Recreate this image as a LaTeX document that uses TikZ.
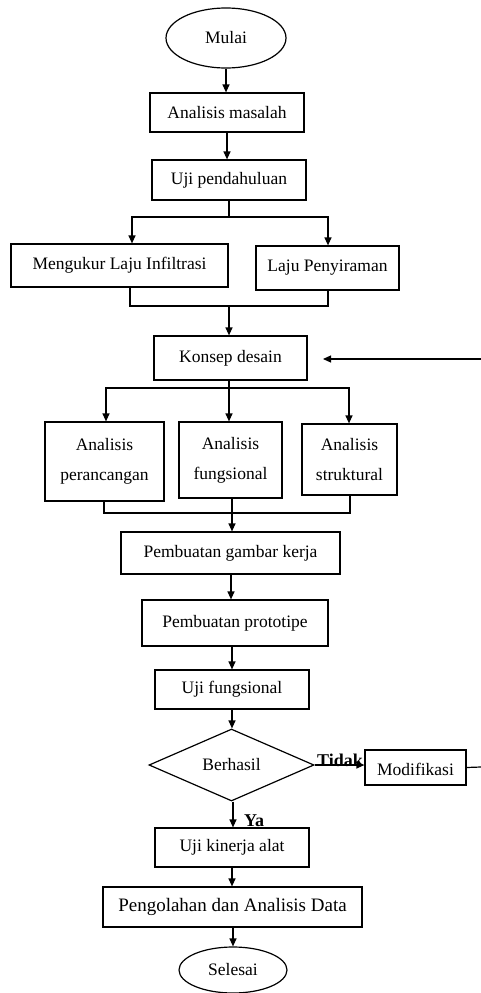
\documentclass[tikz,border=0pt]{standalone}
\usepackage{fontspec}
\setmainfont{Liberation Serif}
\usetikzlibrary{shapes.geometric,arrows.meta}
\begin{document}
\begin{tikzpicture}[x=1pt,y=-1pt,
  line width=1.2pt,
  txt/.style={font=\fontsize{17.5}{20}\selectfont},
  box/.style={draw,rectangle,inner sep=0pt,align=center,txt},
  twoline/.style={box,font=\fontsize{17.5}{30}\selectfont},
  oval/.style={draw,ellipse,inner sep=0pt,txt},
  decision/.style={draw,diamond,inner sep=0pt,txt},
  arr/.style={-{Triangle[length=8pt,width=7pt]}},
  lbl/.style={font=\fontsize{18}{20}\selectfont\bfseries,inner sep=0pt}]
\useasboundingbox (0,0) rectangle (481,993);

\node[oval,minimum width=120pt,minimum height=60pt] (mulai) at (226,38) {Mulai};
\node[box,minimum width=154pt,minimum height=39pt] (am) at (227,112.5) {Analisis masalah};
\node[box,minimum width=154pt,minimum height=40pt] (uji) at (229,180) {Uji pendahuluan};
\node[box,minimum width=217pt,minimum height=43pt] (meng) at (119.5,265.5) {Mengukur Laju Infiltrasi};
\node[box,minimum width=143pt,minimum height=44pt] (laju) at (327.5,268) {Laju Penyiraman};
\node[box,minimum width=153pt,minimum height=44pt] (konsep) at (230.5,358) {Konsep desain};
\node[twoline,minimum width=119pt,minimum height=79pt] (ap) at (104.5,461.5) {Analisis\\perancangan};
\node[twoline,minimum width=103pt,minimum height=76pt] (af) at (230.5,460) {Analisis\\fungsional};
\node[twoline,minimum width=95pt,minimum height=71pt] (as) at (349.5,459.5) {Analisis\\struktural};
\node[box,minimum width=219pt,minimum height=42pt] (pgk) at (230.5,553) {Pembuatan gambar kerja};
\node[box,minimum width=186pt,minimum height=46pt] (pp) at (235,623) {Pembuatan prototipe};
\node[box,minimum width=154pt,minimum height=39pt] (uf) at (232,689.5) {Uji fungsional};
\node[decision,minimum width=165pt,minimum height=72pt] (dia) at (231.5,765) {Berhasil};
\node[box,minimum width=101pt,minimum height=35pt,text depth=0pt] (mod) at (415.5,767.5) {\raisebox{-4pt}{Modifikasi}};
\node[box,minimum width=154pt,minimum height=39pt] (uka) at (232,847.5) {Uji kinerja alat};
\node[box,minimum width=259pt,minimum height=40pt,font=\fontsize{19}{22}\selectfont] (peng) at (232.5,907) {Pengolahan dan Analisis Data};
\node[oval,minimum width=108pt,minimum height=46pt] (sel) at (233,970) {Selesai};

% top chain
\draw[arr] (mulai.south) -- (mulai.south |- am.north);
\draw[arr] (am.south) -- (am.south |- uji.north);

% split after Uji pendahuluan
\coordinate (s1) at (229,217);
\coordinate (s1L) at (132,217);
\coordinate (s1R) at (328,217);
\draw (uji.south) -- (s1);
\draw[arr] (s1) -- (s1L) -- (s1L |- meng.north);
\draw[arr] (s1) -- (s1R) -- (s1R |- laju.north);

% join before Konsep desain
\coordinate (j1L) at (130,306);
\coordinate (j1R) at (328,306);
\coordinate (j1) at (229,306);
\draw (j1L |- meng.south) -- (j1L) -- (j1R) -- (j1R |- laju.south);
\draw[arr] (j1) -- (j1 |- konsep.north);

% feedback arrow into Konsep desain
\coordinate (fbT) at (481,359);
\coordinate (fbEnd) at (323,359);
\draw[arr] (fbT) -- (fbEnd);

% split after Konsep desain
\coordinate (s2) at (229,388);
\coordinate (s2L) at (106,388);
\coordinate (s2R) at (349,388);
\draw (konsep.south -| s2) -- (s2);
\draw[arr] (s2) -- (s2L) -- (s2L |- ap.north);
\draw[arr] (s2) -- (s2 |- af.north);
\draw[arr] (s2) -- (s2R) -- (s2R |- as.north);

% join after analyses
\coordinate (j2L) at (104,513);
\coordinate (j2R) at (350,513);
\coordinate (j2) at (232,498);
\draw (j2L |- ap.south) -- (j2L) -- (j2R) -- (j2R |- as.south);
\draw[arr] (j2) -- (j2 |- pgk.north);

% lower chain
\draw[arr] (pgk.south -| 231,0) -- (231,0 |- pp.north);
\draw[arr] (pp.south -| 232,0) -- (232,0 |- uf.north);
\draw[arr] (uf.south) -- (uf.south |- dia.north);
\draw[arr] (dia.east) -- (dia.east -| mod.west);
\node[lbl] (tidak) at (340,760) {Tidak};
\coordinate (modR) at (481,767);
\draw (mod.east) -- (modR);
\draw[arr] (dia.south -| 233,0) -- (233,0 |- uka.north);
\node[lbl] (ya) at (254,821) {Ya};
\draw[arr] (uka.south) -- (uka.south |- peng.north);
\draw[arr] (peng.south -| 233,0) -- (233,0 |- sel.north);
\end{tikzpicture}
\end{document}
